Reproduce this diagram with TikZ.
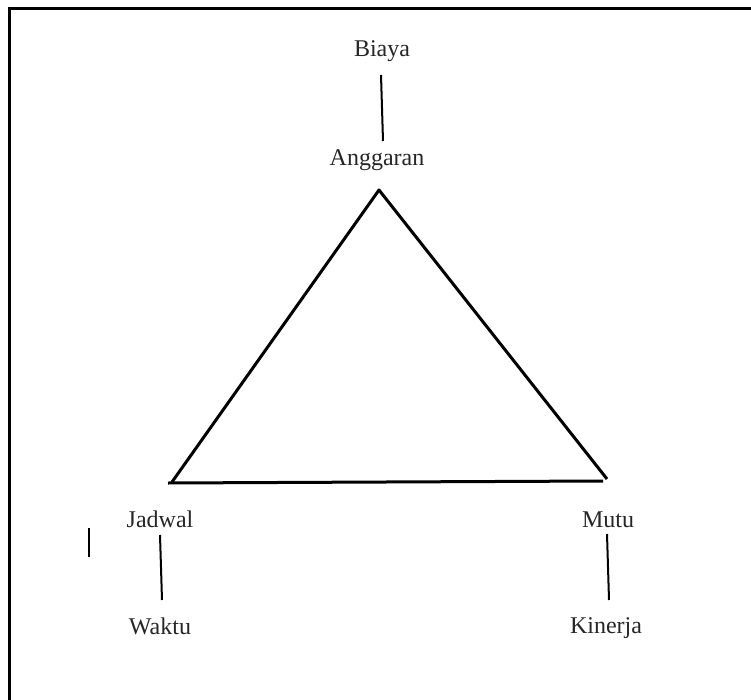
\documentclass[tikz,border=0pt]{standalone}
\usepackage{fontspec}
\setmainfont{Liberation Serif}
\begin{document}
\begin{tikzpicture}[x=1pt,y=-1pt,
  lbl/.style={font=\fontsize{24}{28}\selectfont, inner sep=0pt, text=black!85, anchor=base},
  conn/.style={line width=2pt, black},
  tri/.style={line width=3pt, black, line join=round},
  frame/.style={line width=2.5pt, black}]
\useasboundingbox (0,0) rectangle (751,700);
% frame (only top and left visible)
\coordinate (fr1) at (751,8.5);
\coordinate (fr2) at (9.5,8.5);
\coordinate (fr3) at (9.5,700);
\draw[frame] (fr1) -- (fr2) -- (fr3);
% labels
\node[lbl] (biaya) at (382,57) {Biaya};
\node[lbl] (anggaran) at (377,166) {Anggaran};
\node[lbl] (jadwal) at (160,527) {Jadwal};
\node[lbl] (waktu) at (160,634) {Waktu};
\node[lbl] (mutu) at (608,527) {Mutu};
\node[lbl] (kinerja) at (606,633) {Kinerja};
% connectors
\coordinate (b1) at (381,75);  \coordinate (b2) at (383,141);
\draw[conn] (b1) -- (b2);
\coordinate (j1) at (160,535); \coordinate (j2) at (162,600);
\draw[conn] (j1) -- (j2);
\coordinate (m1) at (607,534); \coordinate (m2) at (609,600);
\draw[conn] (m1) -- (m2);
\coordinate (s1) at (89,528); \coordinate (s2) at (89,557);
\draw[line width=1.5pt] (s1) -- (s2);
% triangle
\coordinate (top) at (379,190);
\coordinate (left) at (172,482);
\coordinate (right) at (607,479);
\coordinate (bl) at (168,483);
\coordinate (br) at (603,481);
\draw[tri] (left) -- (top) -- (right);
\draw[tri] (bl) -- (br);
\end{tikzpicture}
\end{document}
